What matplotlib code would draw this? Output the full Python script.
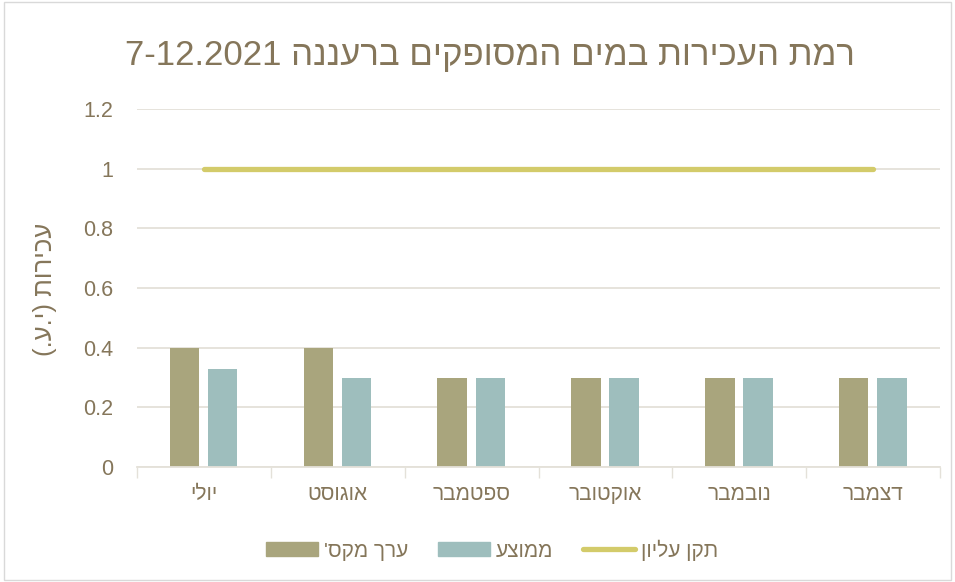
import matplotlib
matplotlib.use("Agg")
import matplotlib.pyplot as plt
import numpy as np
from matplotlib.patches import Rectangle
from matplotlib.lines import Line2D

plt.rcParams['font.family'] = ['Liberation Sans', 'DejaVu Sans']

def vis(s):
    # simple visual reordering for pure-Hebrew strings
    return s[::-1]

categories = ["יולי", "אוגוסט", "ספטמבר", "אוקטובר", "נובמבר", "דצמבר"]
max_vals = [0.4, 0.4, 0.3, 0.3, 0.3, 0.3]
avg_vals = [0.33, 0.3, 0.3, 0.3, 0.3, 0.3]
standard = [1, 1, 1, 1, 1, 1]
yticks = [0, 0.2, 0.4, 0.6, 0.8, 1, 1.2]
ytick_labels = ["0", "0.2", "0.4", "0.6", "0.8", "1", "1.2"]

title = "7-12.2021 " + vis("רמת העכירות במים המסופקים ברעננה")
ylabel = "(.ע.י) " + vis("עכירות")
leg_labels = [vis("ערך מקס'"), vis("ממוצע"), vis("תקן עליון")]

text_color = "#85765A"
olive = "#A9A57D"
teal = "#9EBEBD"
yellow = "#D3CB6A"
grid_color = "#E4E1D9"

W, H = 955, 582
fig = plt.figure(figsize=(W / 100, H / 100), dpi=100)
fig.patches.append(Rectangle((0.004, 0.004), 0.992, 0.992, transform=fig.transFigure,
                             fill=False, edgecolor="#D9D9D9", linewidth=1))

ax = fig.add_axes([137 / W, 1 - 467 / H, (940 - 137) / W, (467 - 109) / H])
x = np.arange(len(categories))
bw = 0.22
ax.bar(x - 0.145, max_vals, width=bw, color=olive, zorder=2)
ax.bar(x + 0.14, avg_vals, width=bw, color=teal, zorder=2)
ax.plot(x, standard, color=yellow, linewidth=3.8, solid_capstyle='round', zorder=3)

ax.set_xlim(-0.5, len(categories) - 0.5)
ax.set_ylim(0, 1.2)
ax.set_yticks(yticks)
ax.set_yticklabels(ytick_labels)
ax.set_xticks(x)
ax.set_xticklabels([vis(c) for c in categories])
ax.tick_params(axis='y', length=0, pad=17, labelsize=15.5, labelcolor=text_color)
ax.tick_params(axis='x', length=0, pad=13, labelsize=15, labelcolor=text_color)
ax.set_xticks(np.arange(-0.5, len(categories) + 0.5, 1), minor=True)
ax.tick_params(axis='x', which='minor', length=8, width=1, color=grid_color)
ax.grid(axis='y', color=grid_color, linewidth=1.3, zorder=0)
for s in ['top', 'right', 'left']:
    ax.spines[s].set_visible(False)
ax.spines['bottom'].set_color(grid_color)
ax.spines['bottom'].set_linewidth(1.3)

fig.text(490 / W, 1 - 56 / H, title, ha='center', va='center', fontsize=25, color=text_color)
fig.text(45 / W, 1 - 289 / H, ylabel, ha='center', va='center', rotation=90, fontsize=18.5, color=text_color)

handles = [Rectangle((0, 0), 1, 1, color=olive),
           Rectangle((0, 0), 1, 1, color=teal),
           Line2D([0], [0], color=yellow, linewidth=3.8, solid_capstyle='round')]
fig.legend(handles, leg_labels, loc='center', bbox_to_anchor=(492 / W, 1 - 550 / H), ncol=3,
           frameon=False, fontsize=15, labelcolor=text_color, handlelength=2.5,
           handleheight=0.67, columnspacing=1.4, handletextpad=0.3)

fig.savefig("out.png", dpi=100)
